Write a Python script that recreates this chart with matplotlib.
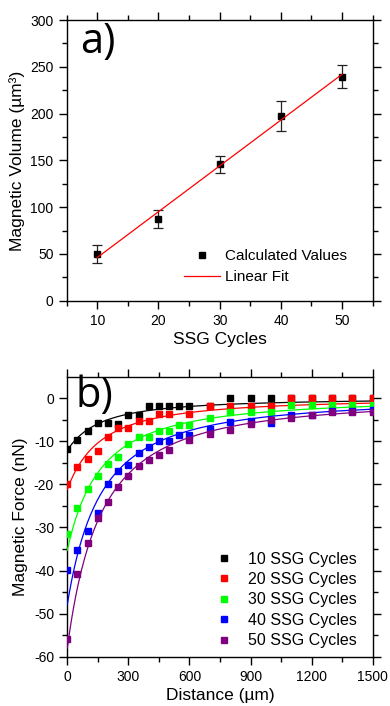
import numpy as np
import matplotlib
matplotlib.use("Agg")
import matplotlib.pyplot as plt
from matplotlib.lines import Line2D

plt.rcParams['font.family'] = ['Liberation Sans', 'DejaVu Sans']
plt.rcParams['axes.unicode_minus'] = False

# panel a: magnetic volume vs SSG cycles
cycles = [10, 20, 30, 40, 50]
volume = [50.0, 87.5, 145.7, 197.9, 239.6]
volume_err = [10.0, 9.6, 9.5, 16.0, 12.0]

# panel b: magnetic force vs distance, one series per cycle count
dist_10 = [0, 50, 100, 150, 200, 250, 300, 350, 400, 450, 500, 550, 600,
           700, 800, 900, 1000, 1100, 1200, 1300, 1400, 1500]
force_10 = [-11.7, -9.6, -7.7, -5.7, -5.7, -5.9, -3.9, -3.9, -1.9, -1.9, -1.9, -1.9, -1.9,
            -1.9, 0, 0, 0, 0, 0, 0, 0, 0]
dist_20 = [0, 50, 100, 150, 200, 250, 300, 350, 400, 450, 500, 600,
           700, 800, 900, 1000, 1100, 1200, 1300, 1400, 1500]
force_20 = [-19.8, -15.9, -14.1, -12.2, -8.9, -7.0, -7.0, -5.3, -5.3, -3.6, -3.6, -3.6,
            -1.9, -1.9, -1.9, -1.9, 0, 0, 0, 0, 0]
dist_30 = [0, 50, 100, 150, 200, 250, 300, 350, 400, 450, 500, 550, 600,
           700, 800, 900, 1000, 1100, 1200, 1300, 1400, 1500]
force_30 = [-31.4, -25.5, -21.1, -18.1, -15.2, -13.6, -10.7, -9.1, -9.1, -7.6, -7.6, -6.1, -6.1,
            -4.6, -3.2, -3.1, -3.1, -1.6, -1.6, -1.6, -1.6, -1.6]
dist_40 = [0, 50, 100, 150, 200, 250, 300, 350, 400, 450, 500, 550, 600,
           700, 800, 900, 1000, 1100, 1200, 1300, 1400, 1500]
force_40 = [-39.8, -35.3, -30.9, -26.7, -19.8, -17.0, -15.5, -12.8, -11.4, -10.0, -10.0, -8.5, -8.5,
            -7.1, -5.6, -5.3, -5.7, -3.9, -3.9, -2.9, -2.9, -2.8]
dist_50 = [0, 50, 100, 150, 200, 250, 300, 350, 400, 450, 500, 600,
           700, 800, 900, 1000, 1100, 1200, 1300, 1400, 1500]
force_50 = [-55.8, -40.9, -33.7, -27.7, -24.1, -20.6, -18.0, -15.8, -14.4, -13.2, -12.1, -9.7,
            -8.4, -7.3, -5.9, -5.1, -4.5, -3.9, -3.2, -3.2, -3.2]

series_labels = ['10 SSG Cycles', '20 SSG Cycles', '30 SSG Cycles', '40 SSG Cycles', '50 SSG Cycles']
series_colors = ['black', '#ff0000', '#00ff00', '#0000ff', '#800080']

# fitted force profile per unit volume (nN / um^3), shared by all curves
k_force = 0.242
d_profile = 246.0
n_profile = 1.5

fig = plt.figure(figsize=(3.9, 7.06), dpi=100)
ax1 = fig.add_axes([0.171, 0.574, 0.7846, 0.3976])
ax2 = fig.add_axes([0.1726, 0.0698, 0.783, 0.3966])


def style_axes(ax):
    for s in ax.spines.values():
        s.set_linewidth(1.0)
    ax.tick_params(which='both', direction='out', top=True, right=True,
                   labeltop=False, labelright=False, labelsize=10, width=1.0)
    ax.tick_params(which='major', length=6)
    ax.tick_params(which='minor', length=3.5)


# ---- panel a
slope, intercept = np.polyfit(cycles, volume, 1)
xfit = np.array([cycles[0], cycles[-1]])
ax1.errorbar(cycles, volume, yerr=volume_err, fmt='s', color='black', ms=4.4,
             ecolor='#222222', elinewidth=0.9, capsize=3.5, capthick=0.9, zorder=3)
fit_line, = ax1.plot(xfit, slope * xfit + intercept, color='#ff0000', lw=0.9, zorder=4)
ax1.set_xlim(5, 55)
ax1.set_ylim(0, 300)
ax1.set_xticks([10, 20, 30, 40, 50])
ax1.set_xticks([5, 15, 25, 35, 45, 55], minor=True)
ax1.set_yticks(np.arange(0, 301, 50))
ax1.set_yticks(np.arange(25, 300, 50), minor=True)
style_axes(ax1)
ax1.set_xlabel('SSG Cycles', fontsize=12.5, labelpad=3)
ax1.set_ylabel('Magnetic Volume (µm³)', fontsize=12.5, labelpad=4)
ax1.text(0.043, 0.882, 'a)', transform=ax1.transAxes, fontsize=30,
         family='Open Sans', va='baseline', ha='left')
point_handle = Line2D([], [], marker='s', color='black', ls='none', ms=4.4)
ax1.legend([point_handle, fit_line], ['Calculated Values', 'Linear Fit'], loc='lower left',
           bbox_to_anchor=(0.383, 0.058), frameon=False, fontsize=11,
           handlelength=2.35, handletextpad=0.33, labelspacing=0.46,
           borderpad=0, borderaxespad=0)

# ---- panel b
xs = np.linspace(0, 1500, 301)
profile = k_force / (1 + xs / d_profile) ** n_profile
dists = [dist_10, dist_20, dist_30, dist_40, dist_50]
forces = [force_10, force_20, force_30, force_40, force_50]
for i in range(5):
    ax2.plot(dists[i], forces[i], 's', color=series_colors[i], ms=4.4,
             label=series_labels[i], zorder=3 + i)
    ax2.plot(xs, -volume[i] * profile, '-', color=series_colors[i], lw=0.9, zorder=3 + i)
ax2.set_xlim(0, 1500)
ax2.set_ylim(-60, 5)
ax2.set_xticks(np.arange(0, 1501, 300))
ax2.set_xticks(np.arange(150, 1500, 300), minor=True)
ax2.set_yticks(np.arange(-60, 1, 10))
ax2.set_yticks(np.arange(-55, 5, 10), minor=True)
style_axes(ax2)
ax2.set_xlabel('Distance (µm)', fontsize=12.5, labelpad=3)
ax2.set_ylabel('Magnetic Force (nN)', fontsize=12.5, labelpad=4)
ax2.text(0.028, 0.893, 'b)', transform=ax2.transAxes, fontsize=30,
         family='Open Sans', va='baseline', ha='left')
ax2.legend(loc='lower left', bbox_to_anchor=(0.487, 0.03), frameon=False, fontsize=11.5,
           handlelength=1.0, handletextpad=1.0, labelspacing=0.34,
           borderpad=0, borderaxespad=0)

fig.savefig('out.png', dpi=100)
